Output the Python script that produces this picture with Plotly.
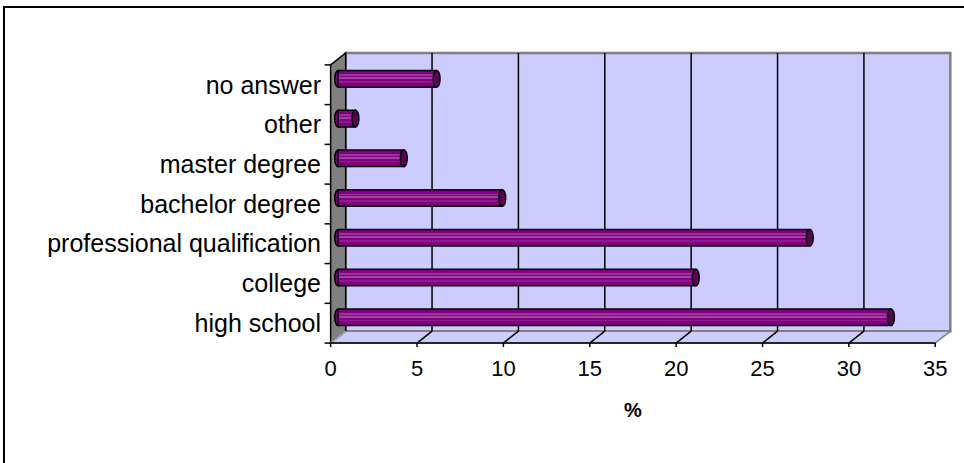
import plotly.graph_objects as go

# ---- data (bottom to top) ----
categories = ["high school", "college", "professional qualification",
              "bachelor degree", "master degree", "other", "no answer"]
values = [32.0, 20.7, 27.3, 9.5, 3.8, 1.0, 5.7]
x_ticks = [0, 5, 10, 15, 20, 25, 30, 35]
x_title = "%"

FONT = "Liberation Sans, Arial, sans-serif"
DX = 0.87   # depth offset (x units)
DY = 0.30   # depth offset (y units)
BW = 0.42   # cylinder thickness
base = DX / 2
yshift = DY / 2
n = len(categories)
idx = list(range(n))
xmax = x_ticks[-1]

shapes = []
# back wall
shapes.append(dict(type="rect", xref="x", yref="y", x0=DX, x1=xmax + DX,
                   y0=-0.5 + DY, y1=n - 0.5 + DY, fillcolor="#CCCCFF",
                   line=dict(color="#808080", width=2.5), layer="below"))
# floor
shapes.append(dict(type="path", xref="x", yref="y",
                   path=f"M0,-0.5 L{xmax},-0.5 L{xmax + DX},{-0.5 + DY} L{DX},{-0.5 + DY} Z",
                   fillcolor="#CCCCFF", line=dict(color="#808080", width=1.5), layer="below"))
# gridlines on back wall + floor depth lines
for v in x_ticks[1:-1]:
    shapes.append(dict(type="line", xref="x", yref="y", x0=v + DX, x1=v + DX,
                       y0=-0.5 + DY, y1=n - 0.5 + DY,
                       line=dict(color="black", width=1.5), layer="below"))
    shapes.append(dict(type="line", xref="x", yref="y", x0=v, x1=v + DX,
                       y0=-0.5, y1=-0.5 + DY,
                       line=dict(color="black", width=1.5), layer="below"))
# left wall
shapes.append(dict(type="path", xref="x", yref="y",
                   path=f"M0,-0.5 L0,{n - 0.5} L{DX},{n - 0.5 + DY} L{DX},{-0.5 + DY} Z",
                   fillcolor="#808080", line=dict(color="black", width=1.5), layer="below"))
shapes.append(dict(type="line", xref="x", yref="y", x0=0, x1=DX, y0=-0.5, y1=-0.5 + DY,
                   line=dict(color="#B0B0C8", width=1.5), layer="below"))
# front axis line + ticks
shapes.append(dict(type="line", xref="x", yref="y", x0=0, x1=xmax, y0=-0.5, y1=-0.5,
                   line=dict(color="black", width=1.5), layer="below"))
for v in x_ticks:
    shapes.append(dict(type="line", xref="x", yref="y", x0=v, x1=v, y0=-0.5, y1=-0.6,
                       line=dict(color="black", width=1.5), layer="below"))
# category boundary ticks on left
for k in range(n + 1):
    shapes.append(dict(type="line", xref="x", yref="y", x0=-0.35, x1=0,
                       y0=k - 0.5, y1=k - 0.5,
                       line=dict(color="black", width=1.5), layer="below"))
# left rounded ends of cylinders (behind bars)
for i, v in zip(idx, values):
    shapes.append(dict(type="circle", xref="x", yref="y",
                       x0=base - 0.2, x1=base + 0.2,
                       y0=i + yshift - BW / 2, y1=i + yshift + BW / 2,
                       fillcolor="#800080", line=dict(color="black", width=1.5),
                       layer="below"))
# end caps
for i, v in zip(idx, values):
    shapes.append(dict(type="circle", xref="x", yref="y",
                       x0=base + v - 0.2, x1=base + v + 0.2,
                       y0=i + yshift - BW / 2, y1=i + yshift + BW / 2,
                       fillcolor="#5C005C", line=dict(color="black", width=1.5),
                       layer="above"))
# outer frame
shapes.append(dict(type="rect", xref="paper", yref="paper",
                   x0=-0.5016, x1=1.05, y0=-0.42, y1=1.1307,
                   line=dict(color="black", width=2), fillcolor="rgba(0,0,0,0)"))

fig = go.Figure()
fig.add_trace(go.Bar(y=idx, x=values, base=base, orientation="h", width=BW,
                     offset=yshift - BW / 2,
                     marker=dict(color="#800080", line=dict(color="black", width=1.5)),
                     hoverinfo="skip"))
for off, w, col in [(0.02, 0.03, "#A540A5"), (0.09, 0.02, "#9A339A"), (-0.08, 0.02, "#8E1A8E")]:
    fig.add_trace(go.Bar(y=idx, x=[v - 0.05 for v in values], base=base + 0.05,
                         orientation="h", width=w, offset=yshift + off - w / 2,
                         marker=dict(color=col, line=dict(width=0)), hoverinfo="skip"))

fig.update_layout(
    width=964, height=463,
    margin=dict(l=322, r=8, t=47, b=110),
    paper_bgcolor="white", plot_bgcolor="rgba(0,0,0,0)",
    barmode="overlay", showlegend=False,
    shapes=shapes,
    font=dict(family=FONT, color="black"),
    xaxis=dict(range=[-0.5, 36.2], tickvals=x_ticks, ticktext=[str(t) for t in x_ticks],
               showgrid=False, zeroline=False, showline=False, ticks="",
               tickfont=dict(size=22, family=FONT, color="black")),
    yaxis=dict(range=[-0.75, n - 0.5 + 0.45], tickvals=idx, ticktext=categories,
               showgrid=False, zeroline=False, showline=False, ticks="",
               tickfont=dict(size=25, family=FONT, color="black")),
    annotations=[dict(text=f"<b>{x_title}</b>", x=xmax / 2, xref="x", y=-0.186, yref="paper",
                      showarrow=False, font=dict(size=20, family=FONT, color="black"),
                      xanchor="center", yanchor="middle")],
)

fig.write_html("out.html")
